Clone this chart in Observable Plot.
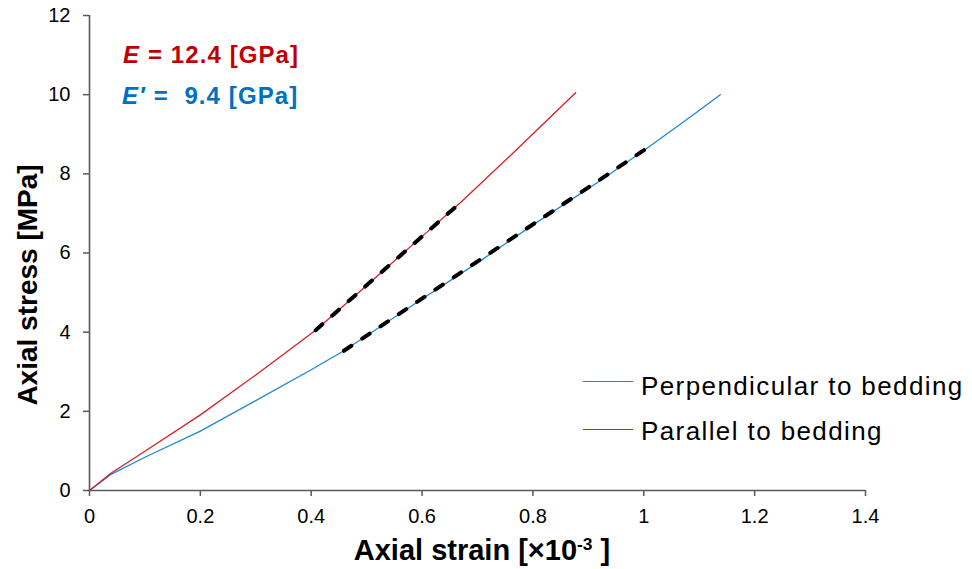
<!DOCTYPE html>
<html><head><meta charset="utf-8">
<script src="https://cdn.jsdelivr.net/npm/d3@7"></script>
<script src="https://cdn.jsdelivr.net/npm/@observablehq/plot@0.6"></script>
<style>
body{margin:0;background:#fff;font-family:"Liberation Sans",Arial,sans-serif;}
#wrap{position:relative;width:972px;height:569px;overflow:hidden;}
.ov{position:absolute;white-space:pre;line-height:1;}
.sw{position:absolute;height:1.5px;width:50px;}
</style></head><body><div id="wrap"></div>
<script>
// Parallel to bedding (red)
const strainParallel = [0, 0.038, 0.1, 0.2, 0.3, 0.408, 0.5, 0.6, 0.669, 0.76, 0.826, 0.877];
const stressParallel = [0, 0.43, 0.99, 1.91, 2.92, 4.05, 5.18, 6.42, 7.27, 8.47, 9.36, 10.05];
// Perpendicular to bedding (blue)
const strainPerp = [0, 0.038, 0.1, 0.2, 0.3, 0.4, 0.459, 0.6, 0.705, 0.8, 0.922, 1.009, 1.09, 1.138];
const stressPerp = [0, 0.40, 0.84, 1.50, 2.27, 3.05, 3.53, 4.84, 5.80, 6.71, 7.83, 8.68, 9.50, 10.0];
// Linear fit segments (dashed)
const fitParallelStrain = [0.408, 0.669];
const fitParallelStress = [4.05, 7.27];
const fitPerpStrain = [0.459, 1.009];
const fitPerpStress = [3.53, 8.68];
// Ticks
const xTicks = [0, 0.2, 0.4, 0.6, 0.8, 1, 1.2, 1.4];
const yTicks = [0, 2, 4, 6, 8, 10, 12];
const seriesNames = ["Perpendicular to bedding", "Parallel to bedding"];
const moduli = ["12.4", "9.4"];

const zip = (xs, ys) => xs.map((x, i) => ({strain: x, stress: ys[i]}));
const red = "#d42027", blue = "#1f87d6", axisGray = "#595959";

const plot = Plot.plot({
  width: 972, height: 569,
  marginLeft: 89, marginRight: 107, marginTop: 15, marginBottom: 79,
  style: {fontFamily: '"Liberation Sans", Arial, sans-serif', fontSize: "20px", color: "#000", background: "white"},
  x: {domain: [0, 1.4]},
  y: {domain: [0, 12]},
  marks: [
    Plot.axisX({ticks: xTicks, tickFormat: d => String(d), tickSize: 6, tickPadding: 12, stroke: axisGray, fill: "#000", label: null}),
    Plot.axisY({ticks: yTicks, tickFormat: d => String(d), tickSize: 6, tickPadding: 13, stroke: axisGray, fill: "#000", label: null}),
    Plot.ruleY([0], {stroke: axisGray, strokeWidth: 1.6}),
    Plot.ruleX([0], {stroke: axisGray, strokeWidth: 1.6}),
    Plot.line(zip(strainPerp, stressPerp), {x: "strain", y: "stress", stroke: blue, strokeWidth: 1.3}),
    Plot.line(zip(strainParallel, stressParallel), {x: "strain", y: "stress", stroke: red, strokeWidth: 1.3}),
    Plot.line(zip(fitParallelStrain, fitParallelStress), {x: "strain", y: "stress", stroke: "black", strokeWidth: 4, strokeDasharray: "9,13", strokeLinecap: "round"}),
    Plot.line(zip(fitPerpStrain, fitPerpStress), {x: "strain", y: "stress", stroke: "black", strokeWidth: 4, strokeDasharray: "9,13", strokeLinecap: "round"})
  ]
});
const wrap = document.getElementById("wrap");
plot.style.position = "absolute"; plot.style.left = "0"; plot.style.top = "0";
wrap.appendChild(plot);
d3.select(plot).selectAll('g[aria-label$="tick"] path').attr("stroke", axisGray).attr("stroke-width", 1.5).attr("stroke-opacity", 1);

function add(html, css) {
  const d = document.createElement("div");
  d.className = "ov";
  d.innerHTML = html;
  Object.assign(d.style, css);
  wrap.appendChild(d);
  return d;
}
// Annotations
add(`<i>E</i> = ${moduli[0]} [GPa]`, {left: "123px", top: "43px", fontSize: "24px", fontWeight: "bold", color: "#c00000", letterSpacing: "1.1px"});
add(`<i>E′</i> =  ${moduli[1]} [GPa]`, {left: "122px", top: "84px", fontSize: "24px", fontWeight: "bold", color: "#0070c0", letterSpacing: "1.1px"});
// Legend
const sw1 = document.createElement("div"); sw1.className = "sw"; Object.assign(sw1.style, {left: "583px", top: "380.5px", background: blue}); wrap.appendChild(sw1);
const sw2 = document.createElement("div"); sw2.className = "sw"; Object.assign(sw2.style, {left: "583px", top: "428.5px", background: red}); wrap.appendChild(sw2);
add(seriesNames[0], {left: "641px", top: "372.5px", fontSize: "26px", color: "#000", letterSpacing: "1.4px"});
add(seriesNames[1], {left: "641px", top: "418px", fontSize: "26px", color: "#000", letterSpacing: "1.4px"});
// Axis titles
add(`Axial strain [×10<sup style="font-size:60%;vertical-align:0.6em;line-height:0">-3</sup> ]`, {left: "482px", top: "535.5px", fontSize: "29px", fontWeight: "bold", color: "#000", transform: "translateX(-50%)"});
add(`Axial stress [MPa]`, {left: "28px", top: "285px", fontSize: "28px", fontWeight: "bold", color: "#000", transform: "translate(-50%,-50%) rotate(-90deg)"});
</script></body></html>
